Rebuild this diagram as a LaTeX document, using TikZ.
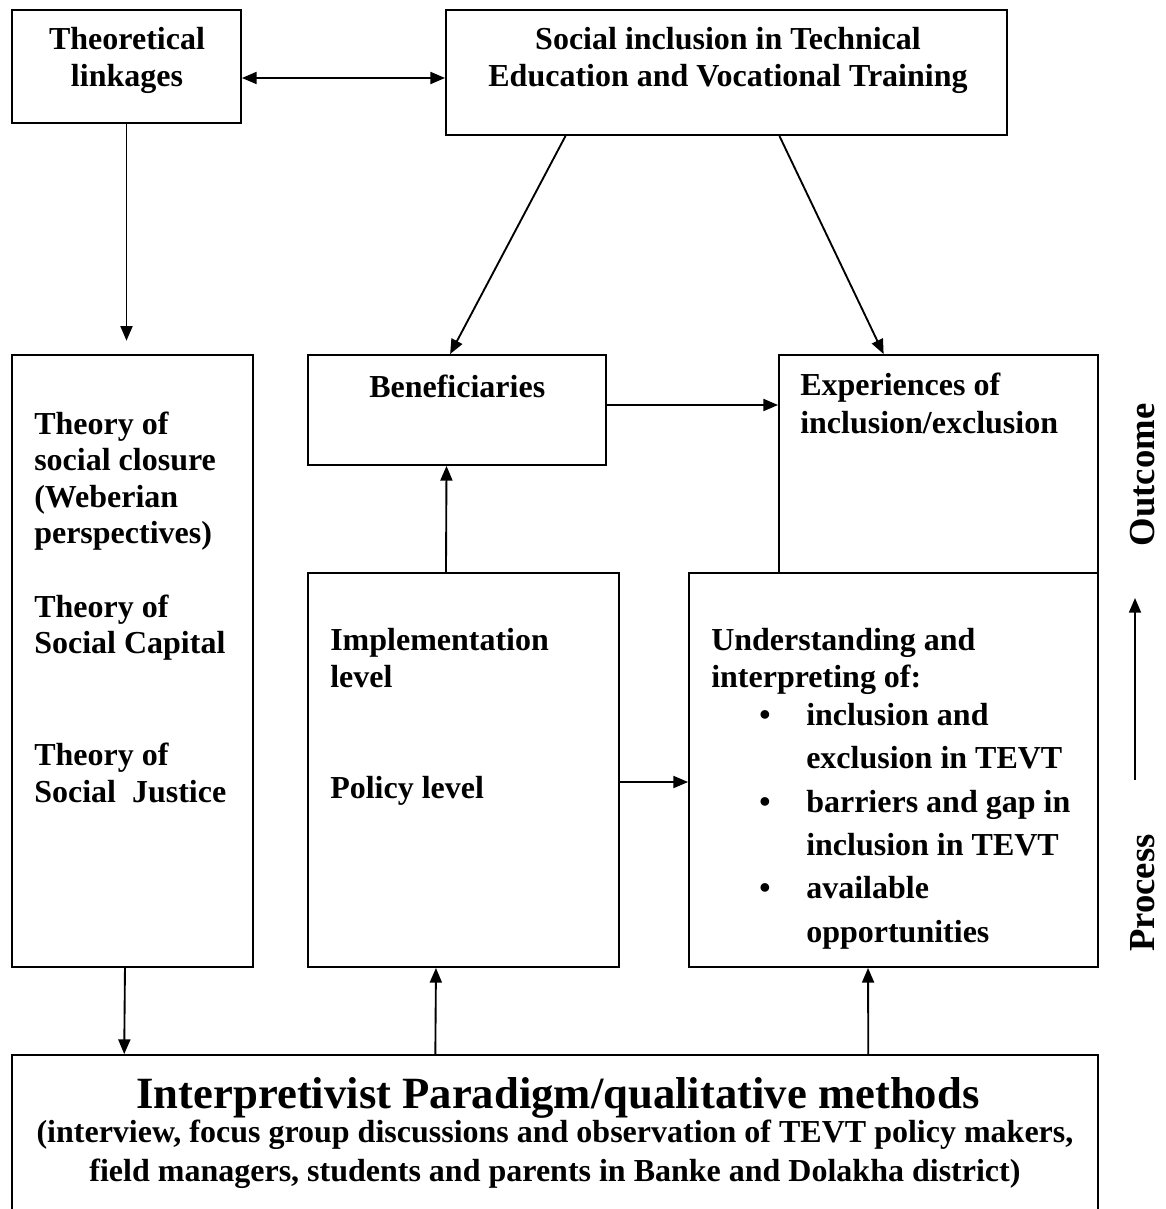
\documentclass[tikz,border=0pt]{standalone}
\usepackage{fontspec}
\setmainfont{Liberation Serif}
\usetikzlibrary{arrows.meta,fit,calc}
\begin{document}
\begin{tikzpicture}[x=0.75pt,y=-0.75pt,
  box/.style={draw, line width=1.4pt, inner sep=0pt},
  arr/.style={line width=1.4pt, -{Triangle[length=11pt,width=9pt]}},
  darr/.style={line width=1.4pt, {Triangle[length=11pt,width=9pt]}-{Triangle[length=11pt,width=9pt]}},
  txt/.style={anchor=base west, inner sep=0pt, font=\fontsize{24}{28}\selectfont\bfseries},
  ctxt/.style={anchor=base, inner sep=0pt, font=\fontsize{24}{28}\selectfont\bfseries},
  side/.style={anchor=center, inner sep=0pt, rotate=90, font=\fontsize{27.5}{30}\selectfont\bfseries}]
\useasboundingbox (0,0) rectangle (1165,1209);
\clip (0,0) rectangle (1165,1209);

% boxes
\node[box, fit={(12,10)(241,123)}] (tl) {};
\node[box, fit={(446,10)(1007,135)}] (si) {};
\node[box, fit={(12,355)(253,967)}] (th) {};
\node[box, fit={(308,355)(606,465)}] (be) {};
\node[box, fit={(779,355)(1098,573)}] (ex) {};
\node[box, fit={(308,573)(619,967)}] (im) {};
\node[box, fit={(689,573)(1098,967)}] (un) {};
\node[box, fit={(12,1055)(1098,1240)}] (ip) {};

% helper coordinates
\coordinate (h1) at (0,78);
\coordinate (h2) at (0,405);
\coordinate (h3) at (0,782);
\coordinate (pa) at (1135,780);
\coordinate (pb) at (1135,598);

% connectors
\draw[darr] (tl.east |- h1) -- (si.west |- h1);
\draw[arr, shorten >=10pt] (tl.south) -- (tl.south |- th.north);
\draw[arr] ($(si.south west)!0.214!(si.south east)$) -- ($(be.north west)!0.477!(be.north east)$);
\draw[arr] ($(si.south west)!0.594!(si.south east)$) -- ($(ex.north west)!0.329!(ex.north east)$);
\draw[arr] (be.east |- h2) -- (ex.west |- h2);
\draw[arr] ($(im.north west)!0.444!(im.north east)$) -- ($(be.south west)!0.465!(be.south east)$);
\draw[arr] (im.east |- h3) -- (un.west |- h3);
\draw[arr] ($(th.south west)!0.469!(th.south east)$) -- ($(ip.north west)!0.104!(ip.north east)$);
\draw[arr] ($(ip.north west)!0.390!(ip.north east)$) -- ($(im.south west)!0.412!(im.south east)$);
\draw[arr] ($(ip.north west)!0.788!(ip.north east)$) -- ($(un.south west)!0.438!(un.south east)$);
\draw[arr] (pa) -- (pb);

% texts: top
\node[ctxt] (t1) at (127,50) {Theoretical};
\node[ctxt] (t2) at (127,87) {linkages};
\node[ctxt] (s1) at (728,50) {Social inclusion in Technical};
\node[ctxt] (s2) at (728,87) {Education and Vocational Training};

% left box
\node[txt] (l1) at (34,434) {Theory of};
\node[txt] (l2) at (34,470) {social closure};
\node[txt] (l3) at (34,507) {(Weberian};
\node[txt] (l4) at (34,543) {perspectives)};
\node[txt] (l5) at (34,617) {Theory of};
\node[txt] (l6) at (34,653) {Social Capital};
\node[txt] (l7) at (34,765) {Theory of};
\node[txt] (l8) at (34,802) {Social\ \ Justice};

% middle
\node[txt] (b1) at (369,397) {Beneficiaries};
\node[txt] (i1) at (330,650) {Implementation};
\node[txt] (i2) at (330,687) {level};
\node[txt] (p1) at (330,798) {Policy level};

% right top
\node[txt] (e1) at (800,395) {Experiences of};
\node[txt] (e2) at (800,433) {inclusion/exclusion};

% understanding
\node[txt] (u1) at (711,650) {Understanding and};
\node[txt] (u2) at (711,687) {interpreting of:};
\node[ctxt] (d1) at (765,725) {\textbullet};
\node[txt] (u3) at (806,725) {inclusion and};
\node[txt] (u4) at (806,768) {exclusion in TEVT};
\node[ctxt] (d2) at (765,812) {\textbullet};
\node[txt] (u5) at (806,812) {barriers and gap in};
\node[txt] (u6) at (806,855) {inclusion in TEVT};
\node[ctxt] (d3) at (765,898) {\textbullet};
\node[txt] (u7) at (806,898) {available};
\node[txt] (u8) at (806,942) {opportunities};

% bottom
\node[anchor=base, inner sep=0pt, font=\fontsize{33.5}{36}\selectfont\bfseries] (m1) at (558,1108) {Interpretivist Paradigm/qualitative methods};
\node[ctxt] (m2) at (555,1142) {(interview, focus group discussions and observation of TEVT policy makers,};
\node[ctxt] (m3) at (555,1181) {field managers, students and parents in Banke and Dolakha district)};

% side labels
\node[side] (oc) at (1143,475) {Outcome};
\node[side] (pc) at (1143,893) {Process};
\end{tikzpicture}
\end{document}
